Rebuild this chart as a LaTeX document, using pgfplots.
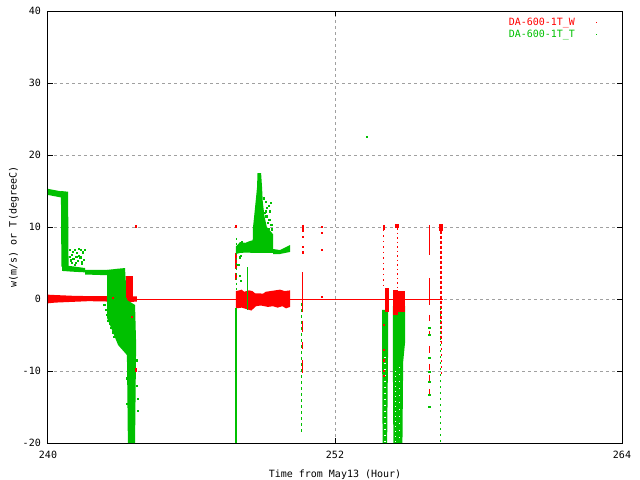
\documentclass[border=0pt]{standalone}
\usepackage{fontspec}
\setmainfont{DejaVu Sans Mono}
\usepackage{pgfplots}
\pgfplotsset{compat=1.18}
\definecolor{gpred}{RGB}{255,0,0}
\definecolor{gpgreen}{RGB}{0,192,0}
\definecolor{gridgray}{RGB}{160,160,160}
\pgfplotsset{
  rfill/.style={fill=gpred, draw=none, mark=none},
  gfill/.style={fill=gpgreen, draw=none, mark=none},
  rline/.style={gpred, line width=1bp, mark=none},
  gline/.style={gpgreen, line width=1bp, mark=none},
  rdots/.style={gpred, only marks, mark=square*, mark size=0.6bp},
  gdots/.style={gpgreen, only marks, mark=square*, mark size=0.6bp},
}
\begin{document}
\begin{tikzpicture}
\begin{axis}[
  at={(0,0)}, anchor=south west,
  scale only axis, width=574bp, height=432bp,
  xmin=240, xmax=264, ymin=-20, ymax=40,
  xtick={240,252,264}, ytick={-20,-10,0,10,20,30,40},
  grid=major,
  major grid style={gridgray, line width=1bp, dash pattern=on 3bp off 3bp},
  axis line style={line width=1bp, black},
  tick style={line width=1bp, black},
  tick align=inside, major tick length=5bp,
  font=\fontsize{10bp}{12bp}\selectfont,
  /pgf/number format/assume math mode=true,
  xticklabel style={inner sep=0pt, anchor=north, yshift=-7.5bp},
  yticklabel style={inner sep=0pt, anchor=east, xshift=-7bp},
  xlabel={Time from May13 (Hour)},
  ylabel={w(m/s) or T(degreeC)},
  xlabel style={at={(axis description cs:0.5,-0.0794)}, anchor=base, inner sep=0pt},
  ylabel style={at={(axis description cs:-0.0545,0.5)}, anchor=base, inner sep=0pt},
  unbounded coords=jump,
  legend style={draw=none, fill=none, at={(0.9573,0.9832)}, anchor=north east,
    inner sep=0pt, outer sep=0pt, row sep=4.5bp, column sep=0pt,
    nodes={inner sep=0pt, text height=7.5bp, text depth=0pt}},
  legend plot pos=right, legend cell align=right,
  legend image code/.code={\path[draw=none,fill=none] (0bp,0bp) rectangle (22bp,0.1bp); \fill[draw=none] (21.5bp,-0.5bp) rectangle (22.5bp,0.5bp);},
]
\addlegendimage{gpred}
\addlegendentry[text=gpred]{DA-600-1T\_W}
\addlegendimage{gpgreen}
\addlegendentry[text=gpgreen]{DA-600-1T\_T}

% ---------- W (red), lower layer ----------
\addplot[rfill] coordinates {(240,0.6)(240.3,0.55)(241.0,0.45)(241.7,0.4)(242.47,0.4)(242.47,-0.35)(241.7,-0.3)(241.0,-0.4)(240.3,-0.5)(240,-0.6)};
\addplot[rline] coordinates {(242.4,0)(256.51,0)};
\addplot[rfill] coordinates {(243.3,0.35)(243.72,0.35)(243.72,-0.35)(243.3,-0.45)};
\addplot[rfill] coordinates {(247.86,1.1)(248.0,1.2)(248.1,1.3)(248.2,1.0)(248.4,1.2)(248.55,1.1)(248.65,0.8)(249.0,0.75)(249.1,1.0)(249.3,1.1)(249.5,1.2)(249.7,1.3)(249.9,1.1)(250.12,1.2)(250.12,-1.1)(249.95,-1.3)(249.8,-1.0)(249.6,-1.2)(249.4,-1.0)(249.2,-1.1)(248.9,-0.9)(248.7,-1.0)(248.5,-1.6)(248.3,-1.4)(248.1,-1.2)(247.86,-1.3)};
\addplot[rline, line width=1.2bp] coordinates {(247.86,10.3)(247.86,9.8)(247.86,nan)(247.86,6.4)(247.86,4.2)(247.86,nan)(247.86,3.6)(247.86,2.6)(247.86,nan)(247.86,-3.0)(247.86,-3.6)(247.86,nan)(247.86,-5.3)(247.86,-7.5)};
\addplot[rline, line width=1.5bp] coordinates {(250.66,10.3)(250.66,9.3)(250.66,nan)(250.64,3.75)(250.64,-1.8)(250.64,nan)(250.64,-3.0)(250.64,-4.6)(250.64,nan)(250.64,-6.0)(250.64,-7.0)(250.64,nan)(250.64,-8.5)(250.64,-10.3)};
\addplot[rdots] coordinates {(250.66,8.6)(250.64,7.3)(250.66,6.5)(251.46,10.0)(251.46,9.2)(251.46,6.8)(251.46,0.3)(243.68,10.1)(243.68,-9.7)(243.68,-10.0)};
\addplot[rline, line width=1.5bp] coordinates {(254.04,10.3)(254.04,9.6)};
\addplot[rline, line width=1bp, dash pattern=on 1.5bp off 4bp] coordinates {(254.04,9.6)(254.04,1.5)};
\addplot[rfill] coordinates {(254.5,10.35)(254.68,10.35)(254.68,9.8)(254.5,9.8)};
\addplot[rline, line width=1bp, dash pattern=on 1.5bp off 3bp] coordinates {(254.6,9.8)(254.6,1.5)};
\addplot[rline] coordinates {(255.94,10.3)(255.94,6.1)(255.94,nan)(255.94,2.9)(255.94,-0.8)(255.94,nan)(255.94,-2.2)(255.94,-3.0)(255.94,nan)(255.94,-4.5)(255.94,-5.2)(255.94,nan)(255.94,-6.5)(255.94,-7.5)(255.94,nan)(255.94,-9.0)(255.94,-9.8)(255.94,nan)(255.94,-10.5)(255.94,-11.5)(255.94,nan)(255.94,-12.5)(255.94,-13.3)};
\addplot[rfill] coordinates {(256.33,10.35)(256.5,10.35)(256.5,9.5)(256.33,9.5)};
\addplot[rline, line width=2bp, dash pattern=on 3bp off 2bp] coordinates {(256.43,9.5)(256.43,-6.0)};
\addplot[rline, line width=1.2bp, dash pattern=on 2bp off 4bp] coordinates {(256.46,-6.0)(256.46,-10.6)};

% ---------- T (green) ----------
\addplot[gfill] coordinates {(240,15.3)(240.55,14.95)(240.55,14.1)(240,14.45)};
\addplot[gfill] coordinates {(240.54,15.0)(240.84,14.9)(240.86,4.5)(240.56,4.5)};
\addplot[gfill] coordinates {(240.59,4.7)(241.0,4.55)(241.55,4.3)(241.55,3.7)(241.0,3.8)(240.59,3.9)};
\addplot[gfill] coordinates {(241.55,4.05)(242.5,4.05)(243.2,4.0)(243.2,3.25)(242.5,3.3)(241.55,3.4)};
\addplot[gfill] coordinates {(242.47,4.03)(242.9,4.2)(243.22,4.3)(243.30,-0.14)(243.64,-0.83)(243.68,-5.69)(243.68,-7.78)(243.64,-20)(243.34,-20)(243.30,-7.78)(242.93,-6.39)(242.59,-3.61)(242.47,-2.64)};
\addplot[gdots] coordinates {(240.92,6.8)(240.98,6.2)(241.05,5.6)(241.1,6.9)(241.15,5.0)(241.2,6.4)(241.25,5.3)(241.3,7.0)(241.35,5.8)(241.4,4.9)(241.45,6.5)(241.5,5.5)(241.0,5.0)(241.12,4.8)(240.95,5.4)(241.28,6.0)(241.38,6.9)(241.55,6.8)(241.18,5.9)(241.42,5.2)(240.9,5.9)(241.02,6.6)
  (242.40,-1.5)(242.45,-2.2)(242.52,-3.0)(242.58,-3.4)(242.55,-2.6)(242.62,-4.0)(242.70,-4.6)(242.5,-1.0)(242.35,-0.8)(242.75,-5.2)
  (243.72,-12)(243.75,-15.5)(243.7,-8.5)(243.74,-13.8)(243.3,-14.5)(243.28,-11)};
% second period
\addplot[gline, line width=1.2bp] coordinates {(247.86,-1.2)(247.86,-20)};
\addplot[gline, line width=1bp, dash pattern=on 2bp off 3bp] coordinates {(247.88,8.5)(247.88,1.3)};
\addplot[gdots] coordinates {(247.95,7.0)(248.0,5.8)(248.05,6.0)(248.1,7.9)(247.95,4.8)(248.0,3.2)(248.05,2.5)};
\addplot[gfill] coordinates {(247.86,7.3)(248.03,7.9)(248.25,7.8)(248.45,8.06)(248.61,8.2)(248.61,6.4)(248.3,6.45)(248.03,6.4)(247.86,6.25)};
\addplot[gfill] coordinates {(248.55,6.39)(248.57,9.9)(248.62,11.5)(248.68,13.5)(248.74,15.5)(248.76,17.5)(248.91,17.5)(248.95,15.5)(248.98,13.5)(249.05,11.5)(249.15,10.0)(249.41,9.0)(249.41,6.39)};
\addplot[gdots] coordinates {(249.10,13.5)(249.15,12.7)(249.22,13.0)(249.28,12.2)(249.12,11.5)(249.25,11.0)(249.33,10.3)(249.18,10.6)(249.36,9.7)(249.05,12.0)(249.30,13.4)(249.22,9.8)(249.02,14.0)(249.1,12.2)};
\addplot[gfill] coordinates {(249.41,6.94)(249.70,6.8)(250.12,7.5)(250.12,6.53)(249.70,6.25)(249.41,6.25)};
\addplot[gline] coordinates {(248.33,4.4)(248.33,-1.5)};
\addplot[gline, dash pattern=on 3bp off 3bp] coordinates {(250.62,-0.56)(250.62,-18.6)};
\addplot[gdots] coordinates {(253.34,22.5)};
% third period
\addplot[gfill] coordinates {(253.97,-1.5)(254.22,-1.5)(254.22,-6.8)(254.18,-20)(253.99,-20)(253.97,-6.8)};
\addplot[gfill] coordinates {(254.42,-1.0)(254.93,-1.0)(254.93,-6.0)(254.85,-8.75)(254.82,-20)(254.44,-20)(254.42,-8.75)};
\addplot[gline, line width=1.2bp, draw=white, dash pattern=on 1bp off 5bp] coordinates {(254.09,-8)(254.09,-20)};
\addplot[gline, line width=1.2bp, draw=white, dash pattern=on 1bp off 4bp] coordinates {(254.54,-10)(254.54,-20)};
\addplot[gline, line width=1.2bp, draw=white, dash pattern=on 1bp off 6bp] coordinates {(254.70,-9.5)(254.70,-20)};
\addplot[gdots] coordinates {(255.94,-4.0)(255.94,-5.0)(255.94,-8.2)(255.94,-10.1)(255.94,-11.5)(255.94,-13.3)(255.94,-15.0)};
\addplot[gline, line width=1.2bp, dash pattern=on 2bp off 4bp] coordinates {(256.40,-1.25)(256.40,-20)};

% ---------- W (red), upper layer ----------
\addplot[rfill] coordinates {(243.25,3.24)(243.57,3.24)(243.57,0.1)(243.25,0.1)};
\addplot[rfill] coordinates {(254.07,1.53)(254.24,1.53)(254.24,-1.8)(254.07,-1.8)};
\addplot[rfill] coordinates {(254.41,1.25)(254.62,1.25)(254.62,-2.2)(254.41,-2.2)};
\addplot[rfill] coordinates {(254.65,1.1)(254.93,1.1)(254.93,-1.8)(254.65,-1.8)};
\addplot[rdots] coordinates {(254.03,-3.6)(254.03,-7.0)(254.05,-8.5)(254.03,-10.0)(254.05,-10.6)(242.7,0.2)(243.5,-2.5)};
\end{axis}
\pgfresetboundingbox
\useasboundingbox (-48bp,-37bp) rectangle (592bp,443bp);
\end{tikzpicture}
\end{document}
